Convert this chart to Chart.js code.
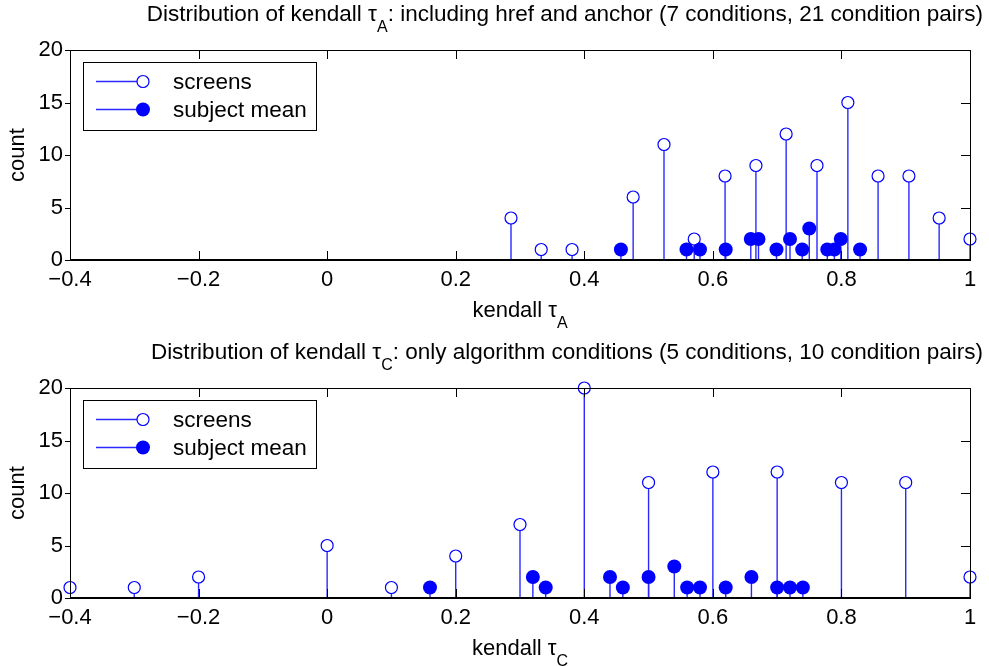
<!DOCTYPE html>
<html>
<head>
<meta charset="utf-8">
<script src="https://cdn.jsdelivr.net/npm/chart.js@4/dist/chart.umd.min.js"></script>
<style>
  html, body { margin: 0; padding: 0; background: #fff; }
  #figure { position: relative; width: 989px; height: 666px; overflow: hidden; }
  .panel { position: absolute; left: 0; width: 989px; height: 333px; }
</style>
</head>
<body>
<div id="figure">
  <div class="panel" style="top:0"><canvas id="panelA" width="989" height="333"></canvas></div>
  <div class="panel" style="top:333px"><canvas id="panelC" width="989" height="333"></canvas></div>
</div>
<script>
// ---- axis ticks ----
const xTicks = [-0.4, -0.2, 0, 0.2, 0.4, 0.6, 0.8, 1];
const yTicks = [0, 5, 10, 15, 20];

// ---- tau_A: 7 conditions, 21 condition pairs ----
const tauA_screens   = [0.286, 0.333, 0.381, 0.476, 0.524, 0.571, 0.619, 0.667, 0.714, 0.762, 0.810, 0.857, 0.905, 0.952, 1.000];
const countA_screens = [4, 1, 1, 6, 11, 2, 8, 9, 12, 9, 15, 8, 8, 4, 2];
const tauA_subjects   = [0.457, 0.559, 0.580, 0.620, 0.659, 0.671, 0.699, 0.720, 0.739, 0.750, 0.778, 0.789, 0.799, 0.829];
const countA_subjects = [1, 1, 1, 1, 2, 2, 1, 2, 1, 3, 1, 1, 2, 1];

// ---- tau_C: 5 algorithm conditions, 10 condition pairs ----
const tauC_screens   = [-0.4, -0.3, -0.2, 0, 0.1, 0.2, 0.3, 0.4, 0.5, 0.6, 0.7, 0.8, 0.9, 1.0];
const countC_screens = [1, 1, 2, 5, 1, 4, 7, 20, 11, 12, 12, 11, 11, 2];
const tauC_subjects   = [0.16, 0.32, 0.34, 0.44, 0.46, 0.50, 0.54, 0.56, 0.58, 0.62, 0.66, 0.70, 0.72, 0.74];
const countC_subjects = [1, 2, 1, 2, 1, 2, 3, 1, 1, 1, 2, 1, 1, 1];

const legendLabels = ['screens', 'subject mean'];

const FONT = '"Liberation Sans", Arial, Helvetica, sans-serif';
const BLUE = '#0000ff';
const STEM = '#2a2aff';

function fmtTick(v) {
  const s = String(Math.round(v * 10) / 10);
  return s.replace('-', '\u2212');
}

// text runs with optional subscript pieces
function drawRuns(ctx, runs, x, y, align) {
  let total = 0;
  runs.forEach(r => { ctx.font = r.size + 'px ' + FONT; r.w = ctx.measureText(r.t).width; total += r.w; });
  let cx = align === 'right' ? x - total : align === 'center' ? x - total / 2 : x;
  ctx.fillStyle = '#000';
  ctx.textAlign = 'left';
  ctx.textBaseline = 'alphabetic';
  runs.forEach(r => {
    ctx.font = r.size + 'px ' + FONT;
    ctx.fillText(r.t, cx, y + (r.dy || 0));
    cx += r.w;
  });
}

// box, stem baseline, inward tick marks, legend and labels
const matlabAxes = {
  id: 'matlabAxes',
  afterDatasetsDraw(chart) {
    const ctx = chart.ctx;
    const { left, right, top, bottom } = chart.chartArea;
    const xs = chart.scales.x, ys = chart.scales.y;
    ctx.save();
    ctx.strokeStyle = '#000';
    ctx.lineWidth = 1;
    ctx.strokeRect(left + 0.5, top + 0.5, right - left, bottom - top);
    // stem baseline
    ctx.beginPath();
    ctx.lineWidth = 2;
    ctx.moveTo(left, bottom);
    ctx.lineTo(right + 1, bottom);
    ctx.stroke();
    ctx.lineWidth = 1;
    ctx.beginPath();
    xs.ticks.forEach(t => {
      const px = Math.round(xs.getPixelForValue(t.value)) + 0.5;
      ctx.moveTo(px, bottom); ctx.lineTo(px, bottom - 9);
      ctx.moveTo(px, top); ctx.lineTo(px, top + 9);
    });
    ys.ticks.forEach(t => {
      const py = Math.round(ys.getPixelForValue(t.value)) + 0.5;
      ctx.moveTo(right, py); ctx.lineTo(right - 9, py);
      ctx.moveTo(left - 5, py); ctx.lineTo(left, py);
    });
    ctx.stroke();

    // legend
    const lx = left + 13, ly = top + 12, lw = 233, lh = 68;
    ctx.fillStyle = '#fff';
    ctx.fillRect(lx, ly, lw, lh);
    ctx.strokeStyle = '#000';
    ctx.strokeRect(lx + 0.5, ly + 0.5, lw, lh);
    const rows = [ly + 19.5, ly + 47.5];
    const sets = [chart.data.datasets[1], chart.data.datasets[3]];
    sets.forEach((ds, i) => {
      const ry = rows[i];
      ctx.strokeStyle = STEM;
      ctx.lineWidth = 1.3;
      ctx.beginPath();
      ctx.moveTo(lx + 13, ry); ctx.lineTo(lx + 60, ry);
      ctx.stroke();
      ctx.beginPath();
      ctx.arc(lx + 60, ry, ds.pointRadius, 0, Math.PI * 2);
      ctx.fillStyle = ds.pointBackgroundColor;
      ctx.fill();
      if (ds.pointBorderWidth > 0) { ctx.lineWidth = ds.pointBorderWidth; ctx.strokeStyle = ds.pointBorderColor; ctx.stroke(); }
      ctx.fillStyle = '#000';
      ctx.font = '22.5px ' + FONT;
      ctx.textAlign = 'left';
      ctx.textBaseline = 'alphabetic';
      ctx.fillText(legendLabels[i], lx + 90, ry + 7.5);
    });
    ctx.restore();
  },
  afterDraw(chart, args, opts) {
    const ctx = chart.ctx;
    const { left, right, top, bottom } = chart.chartArea;
    ctx.save();
    drawRuns(ctx, opts.title, 983, top - 29, 'right');
    drawRuns(ctx, opts.xlabel, (left + right) / 2, bottom + 57, 'center');
    ctx.restore();
  }
};

function makePanel(id, cfg) {
  const screens = cfg.screenTau.map((x, i) => ({ x, y: cfg.screenCount[i] }));
  const subjects = cfg.subjectTau.map((x, i) => ({ x, y: cfg.subjectCount[i] }));
  return new Chart(document.getElementById(id), {
    type: 'scatter',
    data: {
      datasets: [
        // screens: stems + open circles
        { type: 'bar', data: screens, xAxisID: 'x', backgroundColor: STEM, grouped: false, maxBarThickness: 1.4, barPercentage: 1, order: 4 },
        { type: 'scatter', data: screens, xAxisID: 'x', pointStyle: 'circle', pointRadius: 6, pointBorderWidth: 1.2,
          pointBackgroundColor: '#ffffff', pointBorderColor: BLUE, clip: false, order: 3 },
        // subject means: stems + filled dots (own hidden x scale so stem widths stay independent)
        { type: 'bar', data: subjects, xAxisID: 'xs', backgroundColor: STEM, grouped: false, maxBarThickness: 1.4, barPercentage: 1, order: 2 },
        { type: 'scatter', data: subjects, xAxisID: 'xs', pointStyle: 'circle', pointRadius: 7, pointBorderWidth: 0,
          pointBackgroundColor: BLUE, pointBorderColor: BLUE, clip: false, order: 1 }
      ]
    },
    options: {
      responsive: false,
      devicePixelRatio: 1,
      animation: false,
      events: [],
      layout: { padding: { top: cfg.top, right: 19, left: 0, bottom: 0 } },
      plugins: {
        legend: { display: false },
        tooltip: { enabled: false },
        matlabAxes: { title: cfg.title, xlabel: cfg.xlabel }
      },
      scales: {
        x: {
          type: 'linear', position: 'bottom', min: -0.4, max: 1, offset: false,
          afterBuildTicks: s => { s.ticks = xTicks.map(value => ({ value })); },
          afterFit: s => { s.height = cfg.axisH; },
          grid: { display: false, drawTicks: false, offset: false },
          border: { display: false },
          ticks: { callback: fmtTick, color: '#000', font: { family: FONT, size: 22 }, padding: 7, maxRotation: 0, autoSkip: false }
        },
        xs: {
          type: 'linear', position: 'bottom', min: -0.4, max: 1, offset: false, display: false,
          grid: { offset: false }
        },
        y: {
          type: 'linear', position: 'left', min: 0, max: 20, offset: false,
          afterBuildTicks: s => { s.ticks = yTicks.map(value => ({ value })); },
          afterFit: s => { s.width = 70; },
          grid: { display: false, drawTicks: false },
          border: { display: false },
          ticks: { color: '#000', font: { family: FONT, size: 22 }, padding: 7 },
          title: { display: true, text: 'count', color: '#000', font: { family: FONT, size: 22 }, padding: { top: 5, bottom: 0 } }
        }
      }
    },
    plugins: [matlabAxes]
  });
}

makePanel('panelA', {
  top: 50, axisH: 73,
  screenTau: tauA_screens, screenCount: countA_screens,
  subjectTau: tauA_subjects, subjectCount: countA_subjects,
  title: [
    { t: 'Distribution of kendall \u03c4', size: 22.5 },
    { t: 'A', size: 16, dy: 11 },
    { t: ': including href and anchor (7 conditions, 21 condition pairs)', size: 22.5 }
  ],
  xlabel: [{ t: 'kendall \u03c4', size: 22 }, { t: 'A', size: 16, dy: 11 }]
});

makePanel('panelC', {
  top: 55, axisH: 68,
  screenTau: tauC_screens, screenCount: countC_screens,
  subjectTau: tauC_subjects, subjectCount: countC_subjects,
  title: [
    { t: 'Distribution of kendall \u03c4', size: 22.5 },
    { t: 'C', size: 16, dy: 11 },
    { t: ': only algorithm conditions (5 conditions, 10 condition pairs)', size: 22.5 }
  ],
  xlabel: [{ t: 'kendall \u03c4', size: 22 }, { t: 'C', size: 16, dy: 11 }]
});
</script>
</body>
</html>
